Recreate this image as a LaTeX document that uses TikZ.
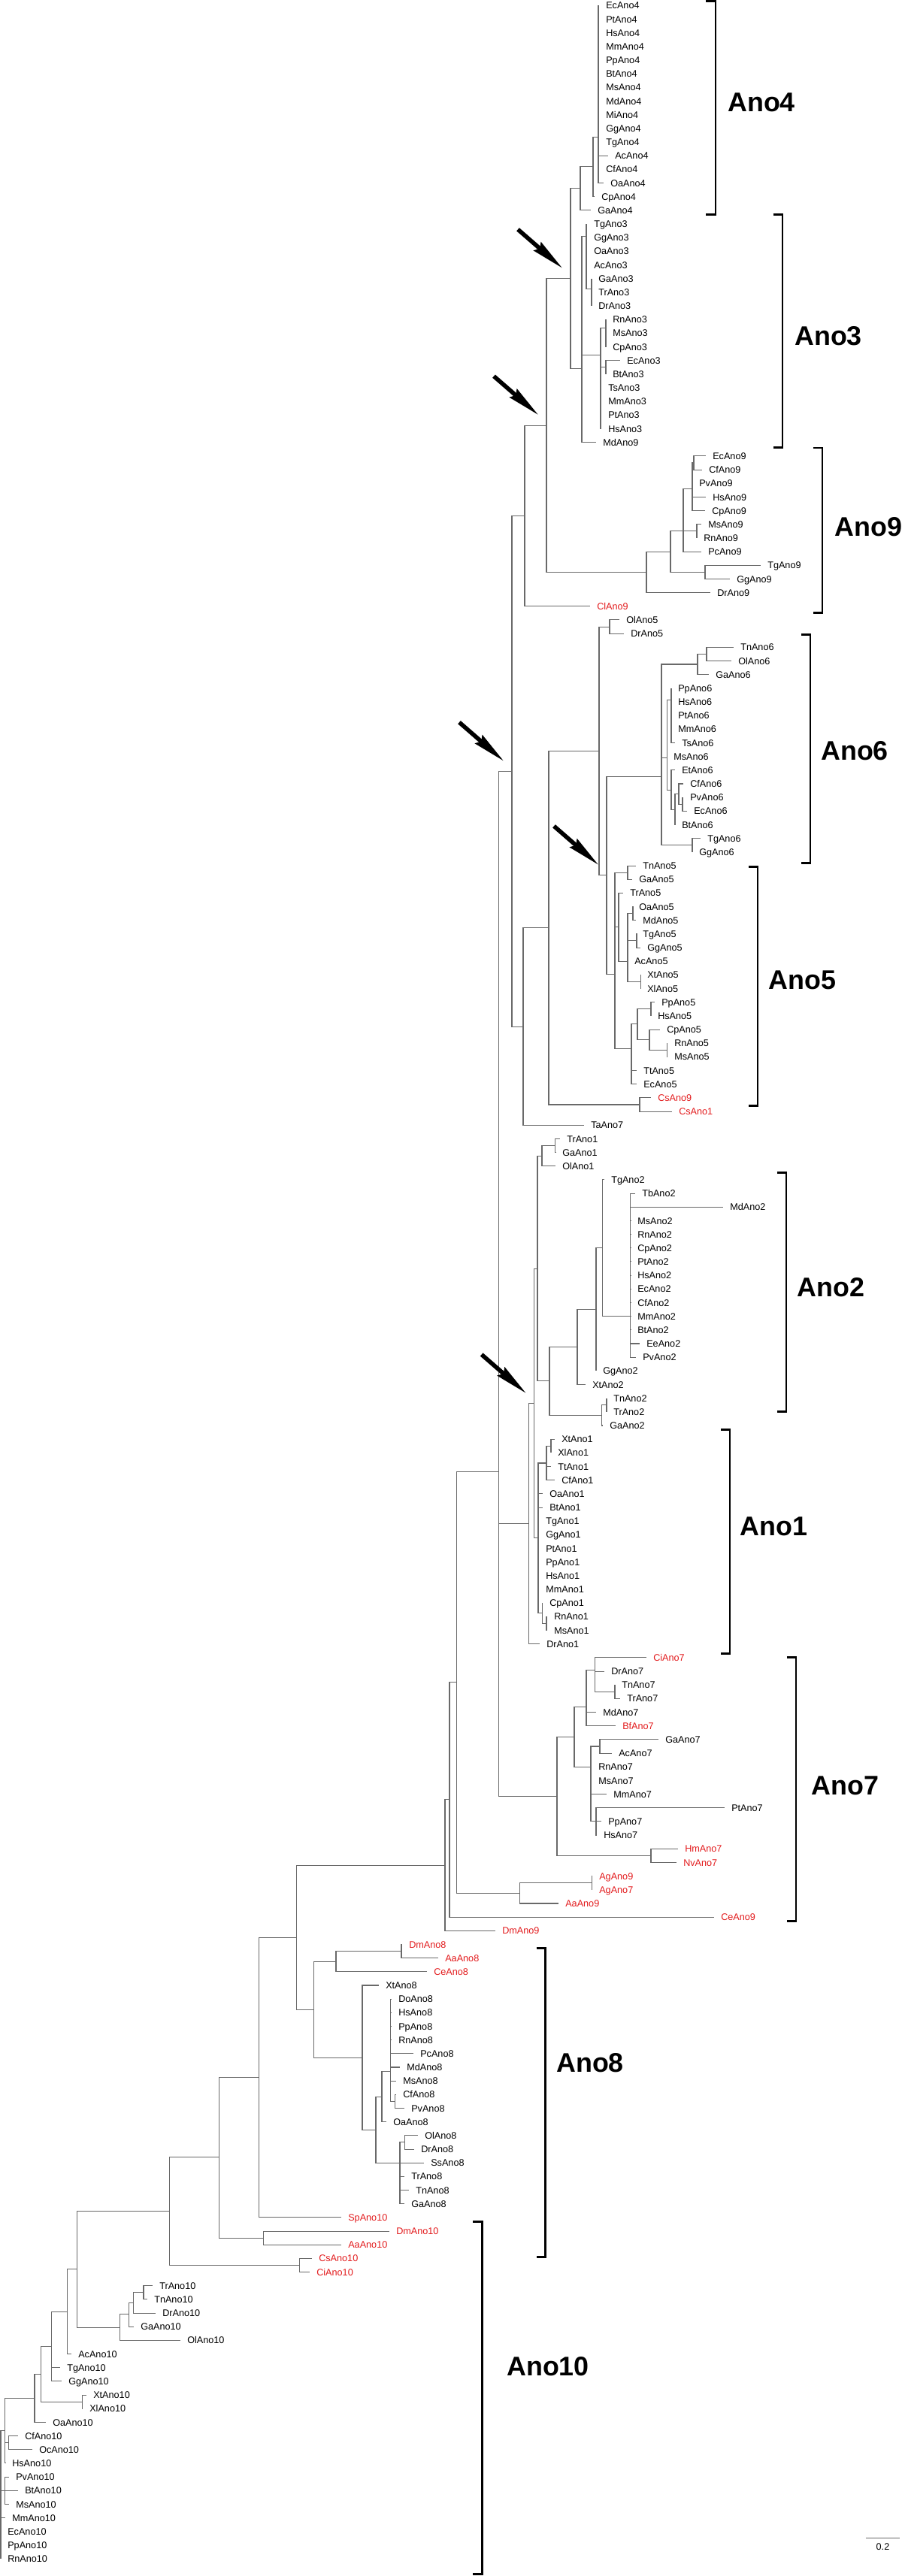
\documentclass[tikz,border=0pt]{standalone}
\usepackage{fontspec}
\setmainfont{Liberation Sans}
\usetikzlibrary{arrows.meta, calc}
\definecolor{treegray}{RGB}{105,105,105}
\definecolor{seqred}{RGB}{226,26,28}

\begin{document}
\begin{tikzpicture}[x=0.25mm, y=-4.5425mm,
    branch/.style={draw=treegray, line width=0.75pt},
    leaf/.style={anchor=west, inner xsep=2.25mm, inner ysep=0pt, text height=6.5pt, text depth=0pt, font=\fontsize{9}{9}\selectfont},
    redleaf/.style={leaf, text=seqred},
    bracket/.style={line width=2.1pt},
    clade/.style={anchor=west, inner sep=0pt, font=\fontsize{25.5}{26}\selectfont\bfseries},
    marker/.style={line width=1.4mm, -{Stealth[length=11mm, width=3.6mm, inset=1mm]}}]
\useasboundingbox (0,-0.402) rectangle (1200,188.26);

% leaves: row / label x / name
\foreach \r/\x/\t in {0/806/EcAno4, 1/806/PtAno4, 2/806/HsAno4, 3/806/MmAno4, 4/806/PpAno4, 5/806/BtAno4, 6/806/MsAno4, 7/806/MdAno4, 8/806/MiAno4, 9/806/GgAno4, 10/806/TgAno4, 11/818/AcAno4, 12/806/CfAno4, 13/812/OaAno4, 14/800/CpAno4, 15/795/GaAno4,
    16/790/TgAno3, 17/790/GgAno3, 18/790/OaAno3, 19/790/AcAno3, 20/796/GaAno3, 21/796/TrAno3, 22/796/DrAno3, 23/815/RnAno3, 24/815/MsAno3, 25/815/CpAno3, 26/834/EcAno3, 27/815/BtAno3, 28/809/TsAno3, 29/809/MmAno3, 30/809/PtAno3, 31/809/HsAno3, 32/802/MdAno9,
    33/948/EcAno9, 34/943/CfAno9, 35/930/PvAno9, 36/948/HsAno9, 37/947/CpAno9, 38/942/MsAno9, 39/936/RnAno9, 40/942/PcAno9, 41/1021/TgAno9, 42/980/GgAno9, 43/954/DrAno9,
    45/833/OlAno5, 46/839/DrAno5,
    47/985/TnAno6, 48/982/OlAno6, 49/952/GaAno6, 50/902/PpAno6, 51/902/HsAno6, 52/902/PtAno6, 53/902/MmAno6, 54/907/TsAno6, 55/896/MsAno6, 56/907/EtAno6, 57/918/CfAno6, 58/918/PvAno6, 59/923/EcAno6, 60/907/BtAno6, 61/941/TgAno6, 62/930/GgAno6,
    63/855/TnAno5, 64/850/GaAno5, 65/838/TrAno5, 66/850/OaAno5, 67/855/MdAno5, 68/855/TgAno5, 69/861/GgAno5, 70/844/AcAno5, 71/861/XtAno5, 72/861/XlAno5, 73/880/PpAno5, 74/875/HsAno5, 75/887/CpAno5, 76/897/RnAno5, 77/897/MsAno5, 78/856/TtAno5, 79/856/EcAno5,
    82/786/TaAno7, 83/754/TrAno1, 84/748/GaAno1, 85/748/OlAno1,
    86/813/TgAno2, 87/854/TbAno2, 88/971/MdAno2, 89/848/MsAno2, 90/848/RnAno2, 91/848/CpAno2, 92/848/PtAno2, 93/848/HsAno2, 94/848/EcAno2, 95/848/CfAno2, 96/848/MmAno2, 97/848/BtAno2, 98/860/EeAno2, 99/855/PvAno2, 100/802/GgAno2, 101/788/XtAno2, 102/816/TnAno2, 103/816/TrAno2, 104/811/GaAno2,
    105/747/XtAno1, 106/742/XlAno1, 107/742/TtAno1, 108/747/CfAno1, 109/731/OaAno1, 110/731/BtAno1, 111/726/TgAno1, 112/726/GgAno1, 113/726/PtAno1, 114/726/PpAno1, 115/726/HsAno1, 116/726/MmAno1, 117/731/CpAno1, 118/737/RnAno1, 119/737/MsAno1, 120/727/DrAno1,
    122/813/DrAno7, 123/827/TnAno7, 124/834/TrAno7, 125/802/MdAno7, 127/885/GaAno7, 128/823/AcAno7, 129/796/RnAno7, 130/796/MsAno7, 131/816/MmAno7, 132/973/PtAno7, 133/809/PpAno7, 134/803/HsAno7,
    145/513/XtAno8, 146/530/DoAno8, 147/530/HsAno8, 148/530/PpAno8, 149/530/RnAno8, 150/559/PcAno8, 151/541/MdAno8, 152/536/MsAno8, 153/536/CfAno8, 154/547/PvAno8, 155/523/OaAno8, 156/565/OlAno8, 157/560/DrAno8, 158/573/SsAno8, 159/547/TrAno8, 160/553/TnAno8, 161/547/GaAno8,
    167/212/TrAno10, 168/205/TnAno10, 169/216/DrAno10, 170/187/GaAno10, 171/249/OlAno10, 172/104/AcAno10, 173/89/TgAno10, 174/91/GgAno10, 175/124/XtAno10, 176/119/XlAno10, 177/70/OaAno10, 178/33/CfAno10, 179/52/OcAno10, 180/16/HsAno10, 181/21/PvAno10, 182/33/BtAno10, 183/21/MsAno10, 184/16/MmAno10, 185/10/EcAno10, 186/10/PpAno10, 187/10/RnAno10}
    \node[leaf] (\t) at (\x-9,\r) {\t};

\foreach \r/\x/\t in {44/794/ClAno9, 80/875/CsAno9, 81/903/CsAno1, 121/869/CiAno7, 126/828/BfAno7, 135/911/HmAno7, 136/909/NvAno7, 137/797/AgAno9, 138/797/AgAno7, 139/752/AaAno9, 140/959/CeAno9, 141/668/DmAno9, 142/544/DmAno8, 143/592/AaAno8, 144/577/CeAno8, 162/463/SpAno10, 163/527/DmAno10, 164/463/AaAno10, 165/424/CsAno10, 166/421/CiAno10}
    \node[redleaf] (\t) at (\x-9,\r) {\t};

% inner nodes: name / x / row
\foreach \n/\x/\r in {a4a/796/9.65, a4b/789/11.8, a4c/772/13.4,
    a3a/787/20.75, a3b/780/16.9, a3c/806/23.6, a3d/806/26.5, a3e/799/25.6, a3f/774/26.6, a43/759/20.0,
    a9a/923/33.5, a9b/921/35.4, a9c/927/38.5, a9d/909/38.5, a9e/938/41.5, a9f/892/40, a9g/860/41.5,
    jA/727/30.75, jB/698/37.4, a5o/811/45.5,
    a6a/940/47.5, a6b/928/48.25, a6c/893/50.84, a6d/908/58.5, a6e/903/57.75, a6f/898/58.9, a6g/893/57.45, a6h/887.5/55.1, a6i/921/61.5, a6j/880/56.5,
    a5a/835/63.5, a5b/842/66.5, a5c/847/68.5, a5d/852.5/71.5, a5e/835/70, a5f/823/67.5, a5g/866/73.5, a5h/887.5/76.5, a5i/864/75.75, a5j/848/74.6, a5k/840/76.4, a5l/818/70.95,
    jG/807/63.7, jF/797/54.6, cs/851/80.5, jE/730/67.55, jD/696/74.8, jC/681/56.1,
    a1a/738.6/83.5, a1b/721/84.25,
    a2a/838.6/96, a2b/801.8/91, a2c/793/95.5, a2d/768/98.25, a2e/807/102.5, a2f/800.7/103.25, a2g/731/100.75, j12/715/92.5,
    a1c/733/105.5, a1d/727/106.75, a1e/727/118.5, a1f/721.4/117.75, a1g/716/112.25,
    jH/710.7/102.4, jI/703.6/111.2, jJ/663.6/83.6,
    a7a/818/123.5, a7b/791.8/121.9, a7c/780/124.6, a7d/798/127.5, a7e/793/133, a7f/786/129, a7g/764/126.8, a7h/866/135.5, a7i/741/131.15,
    jK/663.6/107.4, ag/787.5/137.5, agaa/691.8/138.25, jL/607.9/122.8, jM/598/131.4, jN/592/136.2,
    a8a/534/142.5, a8b/447/143.25, a8c/525.7/153.5, a8d/519.6/151.3, a8e/508/153.15, a8f/538.6/156.5, a8g/532/158, a8h/500/155.6, a8i/482/150.3, a8j/417.9/146.8,
    jO/394.6/141.5, jP/344.6/151.75,
    b10a/350.4/163.5, jQ/291.5/157.6, b10b/398.7/165.5, jR/225.4/161.55,
    b10c/191/167.5, b10d/177.7/168.25, b10e/171.9/169.1, b10f/159.4/170.05,
    jS/102.7/165.8, jT/89.3/168.9, jU/68.3/171.45, b10g/109.4/175.5, jV/54.5/173.5, jW/46/175.25, b10h/11.2/178.5, jX/6.7/177.6, b10i/6.7/182, root/1/182}
    \coordinate (\n) at (\x,\r);

% branches
\foreach \p/\kids in {a4a/{EcAno4,PtAno4,HsAno4,MmAno4,PpAno4,BtAno4,MsAno4,MdAno4,MiAno4,GgAno4,TgAno4,AcAno4,CfAno4,OaAno4},
    a4b/{a4a,CpAno4}, a4c/{a4b,GaAno4},
    a3a/{GaAno3,TrAno3,DrAno3}, a3b/{TgAno3,GgAno3,OaAno3,AcAno3,a3a},
    a3c/{RnAno3,MsAno3,CpAno3}, a3d/{EcAno3,BtAno3}, a3e/{a3c,a3d,TsAno3,MmAno3,PtAno3,HsAno3},
    a3f/{a3b,a3e,MdAno9}, a43/{a4c,a3f},
    a9a/{EcAno9,CfAno9}, a9b/{a9a,PvAno9,HsAno9,CpAno9}, a9c/{MsAno9,RnAno9}, a9d/{a9b,a9c,PcAno9}, a9e/{TgAno9,GgAno9}, a9f/{a9d,a9e}, a9g/{a9f,DrAno9},
    jA/{a43,a9g}, jB/{jA,ClAno9}, a5o/{OlAno5,DrAno5},
    a6a/{TnAno6,OlAno6}, a6b/{a6a,GaAno6}, a6c/{PpAno6,HsAno6,PtAno6,MmAno6,TsAno6}, a6d/{PvAno6,EcAno6}, a6e/{CfAno6,a6d}, a6f/{a6e,BtAno6}, a6g/{EtAno6,a6f}, a6h/{a6c,MsAno6,a6g}, a6i/{TgAno6,GgAno6}, a6j/{a6b,a6h,a6i},
    a5a/{TnAno5,GaAno5}, a5b/{OaAno5,MdAno5}, a5c/{TgAno5,GgAno5}, a5d/{XtAno5,XlAno5}, a5e/{a5b,a5c,AcAno5,a5d}, a5f/{TrAno5,a5e}, a5g/{PpAno5,HsAno5}, a5h/{RnAno5,MsAno5}, a5i/{CpAno5,a5h}, a5j/{a5g,a5i}, a5k/{a5j,TtAno5,EcAno5}, a5l/{a5a,a5f,a5k},
    jG/{a6j,a5l}, jF/{a5o,jG}, cs/{CsAno9,CsAno1}, jE/{jF,cs}, jD/{jE,TaAno7}, jC/{jB,jD},
    a1a/{TrAno1,GaAno1}, a1b/{a1a,OlAno1},
    a2a/{TbAno2,MdAno2,MsAno2,RnAno2,CpAno2,PtAno2,HsAno2,EcAno2,CfAno2,MmAno2,BtAno2,EeAno2,PvAno2}, a2b/{TgAno2,a2a}, a2c/{a2b,GgAno2}, a2d/{a2c,XtAno2}, a2e/{TnAno2,TrAno2}, a2f/{a2e,GaAno2}, a2g/{a2d,a2f},
    j12/{a1b,a2g},
    a1c/{XtAno1,XlAno1}, a1d/{a1c,TtAno1,CfAno1}, a1e/{RnAno1,MsAno1}, a1f/{CpAno1,a1e}, a1g/{a1d,OaAno1,BtAno1,TgAno1,GgAno1,PtAno1,PpAno1,HsAno1,MmAno1,a1f},
    jH/{j12,a1g}, jI/{jH,DrAno1}, jJ/{jC,jI},
    a7a/{TnAno7,TrAno7}, a7b/{CiAno7,DrAno7,a7a}, a7c/{a7b,MdAno7,BfAno7}, a7d/{GaAno7,AcAno7}, a7e/{PtAno7,PpAno7,HsAno7}, a7f/{a7d,RnAno7,MsAno7,MmAno7,a7e}, a7g/{a7c,a7f}, a7h/{HmAno7,NvAno7}, a7i/{a7g,a7h},
    jK/{jJ,a7i}, ag/{AgAno9,AgAno7}, agaa/{ag,AaAno9}, jL/{jK,agaa}, jM/{jL,CeAno9}, jN/{jM,DmAno9},
    a8a/{DmAno8,AaAno8}, a8b/{a8a,CeAno8}, a8c/{CfAno8,PvAno8}, a8d/{DoAno8,HsAno8,PpAno8,RnAno8,PcAno8,MdAno8,MsAno8,a8c}, a8e/{a8d,OaAno8}, a8f/{OlAno8,DrAno8}, a8g/{a8f,SsAno8,TrAno8,TnAno8,GaAno8}, a8h/{a8e,a8g}, a8i/{XtAno8,a8h}, a8j/{a8b,a8i},
    jO/{jN,a8j}, jP/{jO,SpAno10},
    b10a/{DmAno10,AaAno10}, jQ/{jP,b10a}, b10b/{CsAno10,CiAno10}, jR/{jQ,b10b},
    b10c/{TrAno10,TnAno10}, b10d/{b10c,DrAno10}, b10e/{b10d,GaAno10}, b10f/{b10e,OlAno10},
    jS/{jR,b10f}, jT/{jS,AcAno10}, jU/{jT,TgAno10,GgAno10}, b10g/{XtAno10,XlAno10}, jV/{jU,b10g}, jW/{jV,OaAno10}, b10h/{CfAno10,OcAno10}, jX/{jW,b10h,HsAno10}, b10i/{PvAno10,BtAno10,MsAno10},
    root/{jX,b10i,MmAno10,EcAno10,PpAno10,RnAno10}}
    \foreach \c in \kids \draw[branch] (\p) |- (\c);

% clade brackets
\foreach \xl/\xr/\top/\bot/\lab/\lx/\ly in {939/952/-0.31/15.32/Ano4/968/7.1, 1028.6/1041/15.32/32.35/Ano3/1057/24.2,
    1082/1094/32.4/44.5/Ano9/1110.7/38.2, 1066/1078/46.1/62.8/Ano6/1092/54.6, 996/1008/63.1/80.6/Ano5/1022.5/71.4,
    1034/1046/85.5/103/Ano2/1060.7/93.9, 959/971/104.3/120.7/Ano1/984.6/111.4, 1047/1059/121/140.3/Ano7/1079.6/130.4,
    713.6/725.7/142.3/164.9/Ano8/740/150.7, 629.5/641.5/162.3/188.1/Ano10/674/172.9}
{
    \draw[bracket] (\xl,\top) -| (\xr,\bot) -- (\xl,\bot);
    \node[clade] (\lab) at (\lx,\ly) {\lab};
}

% duplication arrows
\foreach \n in {a43,jA,jC,jG,jH}
    \draw[marker] ($(\n)+(-70,-3.6)$) -- ($(\n)+(-10.5,-0.75)$);

% scale bar
\coordinate (sbl) at (1152,185.5);
\coordinate (sbr) at (1197,185.5);
\draw[branch] (sbl) -- (sbr);
\node[font=\fontsize{9}{9}\selectfont, inner sep=1pt, anchor=north] (sbtext) at ($(sbl)!0.5!(sbr)+(0,0.3)$) {0.2};
\end{tikzpicture}
\end{document}
